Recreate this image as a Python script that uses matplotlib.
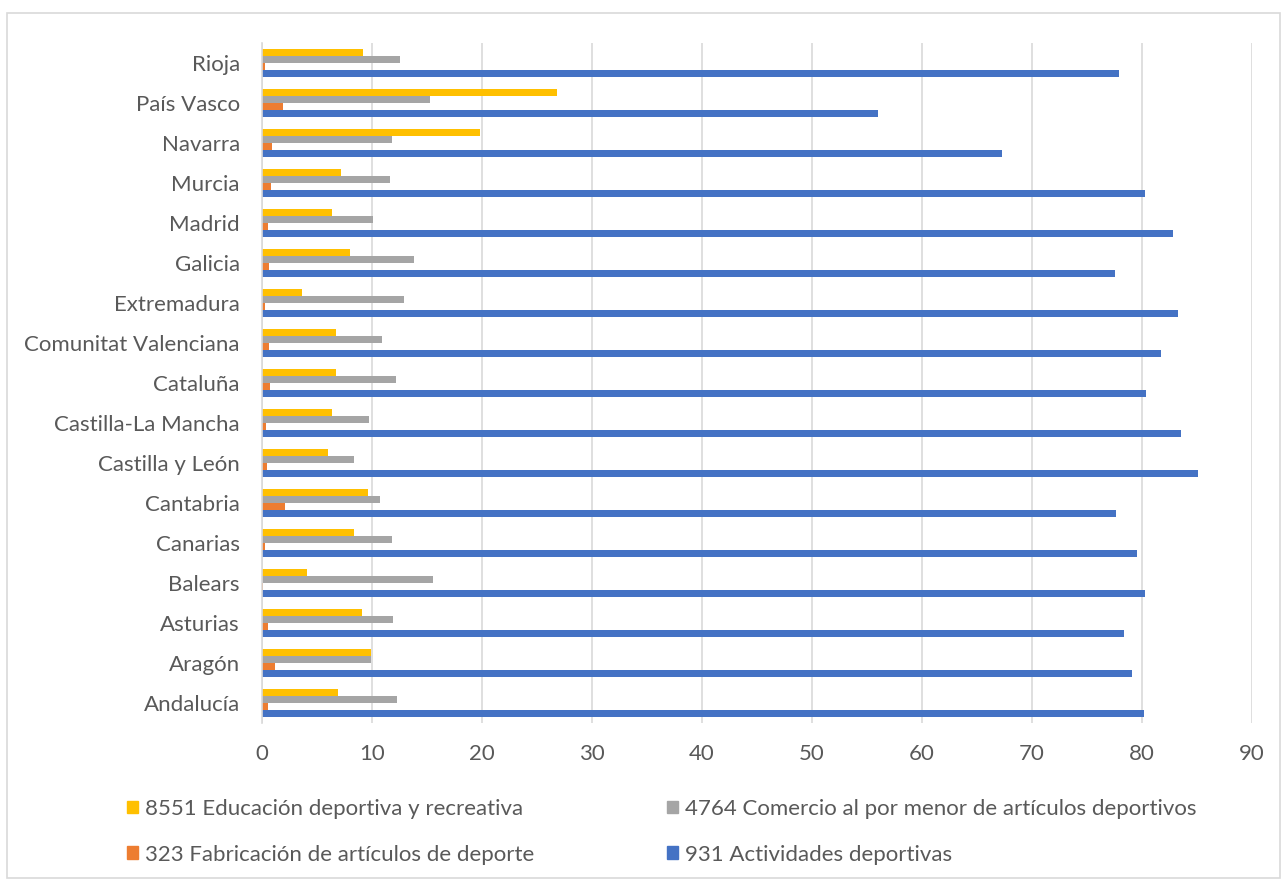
import matplotlib
matplotlib.use("Agg")
import matplotlib.pyplot as plt
from matplotlib.patches import Rectangle, Patch
import numpy as np

regions = ["Andalucía", "Aragón", "Asturias", "Balears", "Canarias", "Cantabria",
           "Castilla y León", "Castilla-La Mancha", "Cataluña", "Comunitat Valenciana",
           "Extremadura", "Galicia", "Madrid", "Murcia", "Navarra", "País Vasco", "Rioja"]

educacion = [6.9, 9.9, 9.1, 4.1, 8.4, 9.6, 6.0, 6.4, 6.7, 6.7, 3.6, 8.0, 6.4, 7.2, 19.8, 26.8, 9.2]
comercio = [12.3, 9.9, 11.9, 15.5, 11.8, 10.7, 8.4, 9.7, 12.2, 10.9, 12.9, 13.8, 10.1, 11.6, 11.8, 15.3, 12.5]
fabricacion = [0.55, 1.15, 0.55, 0.05, 0.27, 2.06, 0.45, 0.36, 0.76, 0.66, 0.27, 0.66, 0.55, 0.85, 0.94, 1.94, 0.27]
actividades = [80.2, 79.1, 78.4, 80.3, 79.5, 77.6, 85.1, 83.5, 80.4, 81.7, 83.3, 77.5, 82.8, 80.3, 67.3, 56.0, 77.9]

labels = ["8551 Educación deportiva y recreativa",
          "4764 Comercio al por menor de artículos deportivos",
          "323 Fabricación de artículos de deporte",
          "931 Actividades deportivas"]
colors = ["#FFC000", "#A5A5A5", "#ED7D31", "#4472C4"]
xticks = [0, 10, 20, 30, 40, 50, 60, 70, 80, 90]

plt.rcParams['font.family'] = ['Lato', 'DejaVu Sans']
txt = "#595959"
W, H = 1283, 880
fig = plt.figure(figsize=(W / 100, H / 100), dpi=100)

# outer chart border
fig.patches.append(Rectangle((7 / W, 1 - 878 / H), (1280 - 7) / W, (878 - 13) / H,
                             transform=fig.transFigure, fill=False,
                             edgecolor="#D9D9D9", linewidth=1.2))

ax = fig.add_axes([262 / W, 1 - 723 / H, (1252 - 262) / W, (723 - 43) / H])

y = np.arange(len(regions))
h = 0.17
series = [educacion, comercio, fabricacion, actividades]
offsets = [0.255, 0.085, -0.085, -0.255]
for vals, off, col, lab in zip(series, offsets, colors, labels):
    ax.barh(y + off, vals, height=h, color=col, label=lab, zorder=3)

ax.set_xlim(0, 90)
ax.set_ylim(-0.5, len(regions) - 0.5)
ax.set_xticks(xticks)
ax.set_yticks(y)
ax.set_yticklabels(regions)
ax.tick_params(axis='both', length=0, labelsize=16, labelcolor=txt)
ax.tick_params(axis='y', pad=16)
ax.tick_params(axis='x', pad=15)
ax.grid(axis='x', color="#D9D9D9", linewidth=1.2, zorder=0)
for s in ["top", "right", "bottom"]:
    ax.spines[s].set_visible(False)
ax.spines["left"].set_color("#D9D9D9")
ax.spines["left"].set_linewidth(1.2)
ax.spines["left"].set_zorder(4)

handles = [Patch(color=c) for c in colors]
kw = dict(frameon=False, fontsize=16, labelcolor=txt, handlelength=0.5, handleheight=0.5,
          handletextpad=0.3, labelspacing=1.15, borderaxespad=0, borderpad=0)
leg1 = fig.legend([handles[0], handles[2]], [labels[0], labels[2]], loc="upper left",
                  bbox_to_anchor=(127 / W, 1 - 799 / H), **kw)
leg2 = fig.legend([handles[1], handles[3]], [labels[1], labels[3]], loc="upper left",
                  bbox_to_anchor=(667 / W, 1 - 799 / H), **kw)

fig.savefig("out.png", dpi=100)
